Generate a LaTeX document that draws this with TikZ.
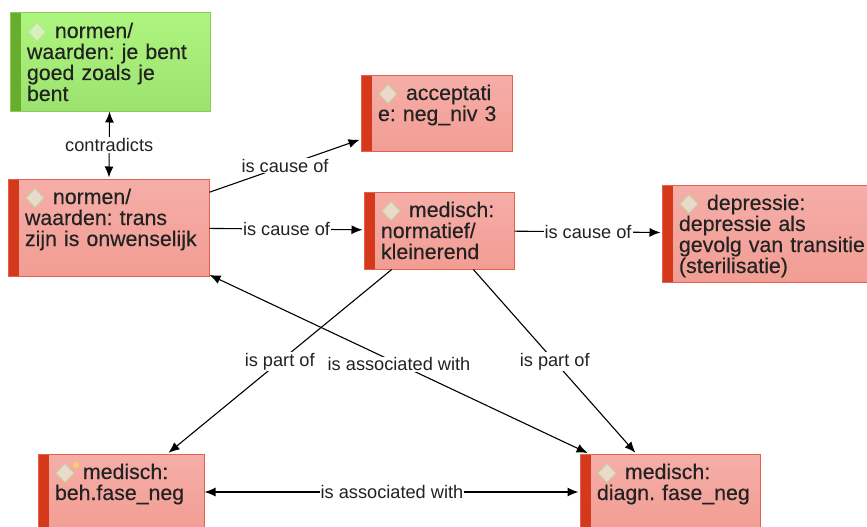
\documentclass[tikz,border=0pt]{standalone}
\usepackage{fontspec}
\setmainfont{Liberation Sans}
\newfontfamily\boxfont[FakeBold=0.3]{Liberation Sans}
\usetikzlibrary{arrows.meta,positioning}
\definecolor{redtop}{HTML}{F5AEA8}
\definecolor{redbottom}{HTML}{F29D93}
\definecolor{redline}{HTML}{E4604E}
\definecolor{redbar}{HTML}{D6381C}
\definecolor{redmark}{HTML}{EADACB}
\definecolor{redmarkline}{HTML}{C9CFA0}
\definecolor{greentop}{HTML}{AEF57F}
\definecolor{greenbottom}{HTML}{9CE26F}
\definecolor{greenline}{HTML}{8CCB5B}
\definecolor{greenbar}{HTML}{67AE2D}
\definecolor{greenmark}{HTML}{D5F2BC}
\definecolor{greenmarkline}{HTML}{BFE39E}
\definecolor{inktext}{HTML}{222222}
\definecolor{memoyellow}{HTML}{F6CF73}
\newcommand{\markgap}{\hspace*{28pt}}
\tikzset{
  codebox/.style 2 args={rectangle,line width=1pt,align=left,inner xsep=17pt,inner ysep=0pt,
    text=inktext,font=\boxfont\fontsize{21.3}{21}\selectfont\frenchspacing,
    text width=#1-34pt,text height=25pt,text depth=#2-25pt},
  codedecor/.style n args={3}{path picture={
    \fill[#1] (path picture bounding box.north west) rectangle
      ([xshift=11pt]path picture bounding box.south west);
    \filldraw[fill=#2,draw=#3,line width=1pt]
      ([xshift=27pt,yshift=-9.5pt]path picture bounding box.north west)
      -- ++(9pt,-9.5pt) -- ++(-9pt,-9.5pt) -- ++(-9pt,9.5pt) -- cycle;}},
  redbox/.style={draw=redline,top color=redtop,bottom color=redbottom,
    codedecor={redbar}{redmark}{redmarkline}},
  greenbox/.style={draw=greenline,top color=greentop,bottom color=greenbottom,
    codedecor={greenbar}{greenmark}{greenmarkline}},
  rellabel/.style={fill=white,inner sep=1pt,text=inktext,font=\fontsize{18.2}{20}\selectfont\frenchspacing},
  memodot/.style={circle,fill=memoyellow,inner sep=0pt,minimum size=6pt}
}
\begin{document}
\begin{tikzpicture}[shorten >=1pt,on grid,>={Latex[length=11pt,width=9pt]},line width=1.1pt]
  \useasboundingbox (0pt,0pt) rectangle (867pt,-527pt);
  \node[redbox,codebox={201pt}{97pt}] (trans) at (108.5pt,-227.5pt) {\markgap normen/\\waarden: trans\\\mbox{zijn is onwenselijk}};
  \node[greenbox,codebox={200pt}{98pt}] (goed) [above right=165.5pt and 1.5pt of trans] {\markgap normen/\\waarden: je bent\\goed zoals je\\bent};
  \node[redbox,codebox={150pt}{77pt}] (normatief) [below right=3pt and 330.5pt of trans] {\markgap medisch:\\normatief/\\kleinerend};
  \node[redbox,codebox={151pt}{76pt}] (acceptatie) [above left=117.5pt and 2.5pt of normatief] {\markgap acceptati\\\mbox{e: neg\_niv 3}};
  \node[redbox,codebox={224pt}{97pt}] (depressie) [below right=3pt and 335pt of normatief] {\markgap depressie:\\depressie als\\\mbox{gevolg van transitie}\\(sterilisatie)};
  \node[redbox,codebox={166pt}{76pt}] (behfase) [below right=264.5pt and 12.5pt of trans] {\markgap medisch:\\beh.fase\_neg};
  \node[redbox,codebox={180pt}{76pt}] (diagnfase) [right=549pt of behfase] {\markgap medisch:\\\mbox{diagn. fase\_neg}};
  \node[memodot] (memo) [below right=9pt and 36pt of behfase.north west] {};
  \path[<->]
  (goed) edge node[rellabel] {contradicts} (trans)
  (trans) edge node[rellabel] {is associated with} (diagnfase)
  (behfase) edge node[rellabel] {is associated with} (diagnfase);
  \path[->]
  (trans) edge node[rellabel] {is cause of} (acceptatie)
  (trans) edge node[rellabel] {is cause of} (normatief)
  (normatief) edge node[rellabel] {is cause of} (depressie)
  (normatief) edge node[rellabel] {is part of} (behfase)
  (normatief) edge node[rellabel] {is part of} (diagnfase);
\end{tikzpicture}
\end{document}
